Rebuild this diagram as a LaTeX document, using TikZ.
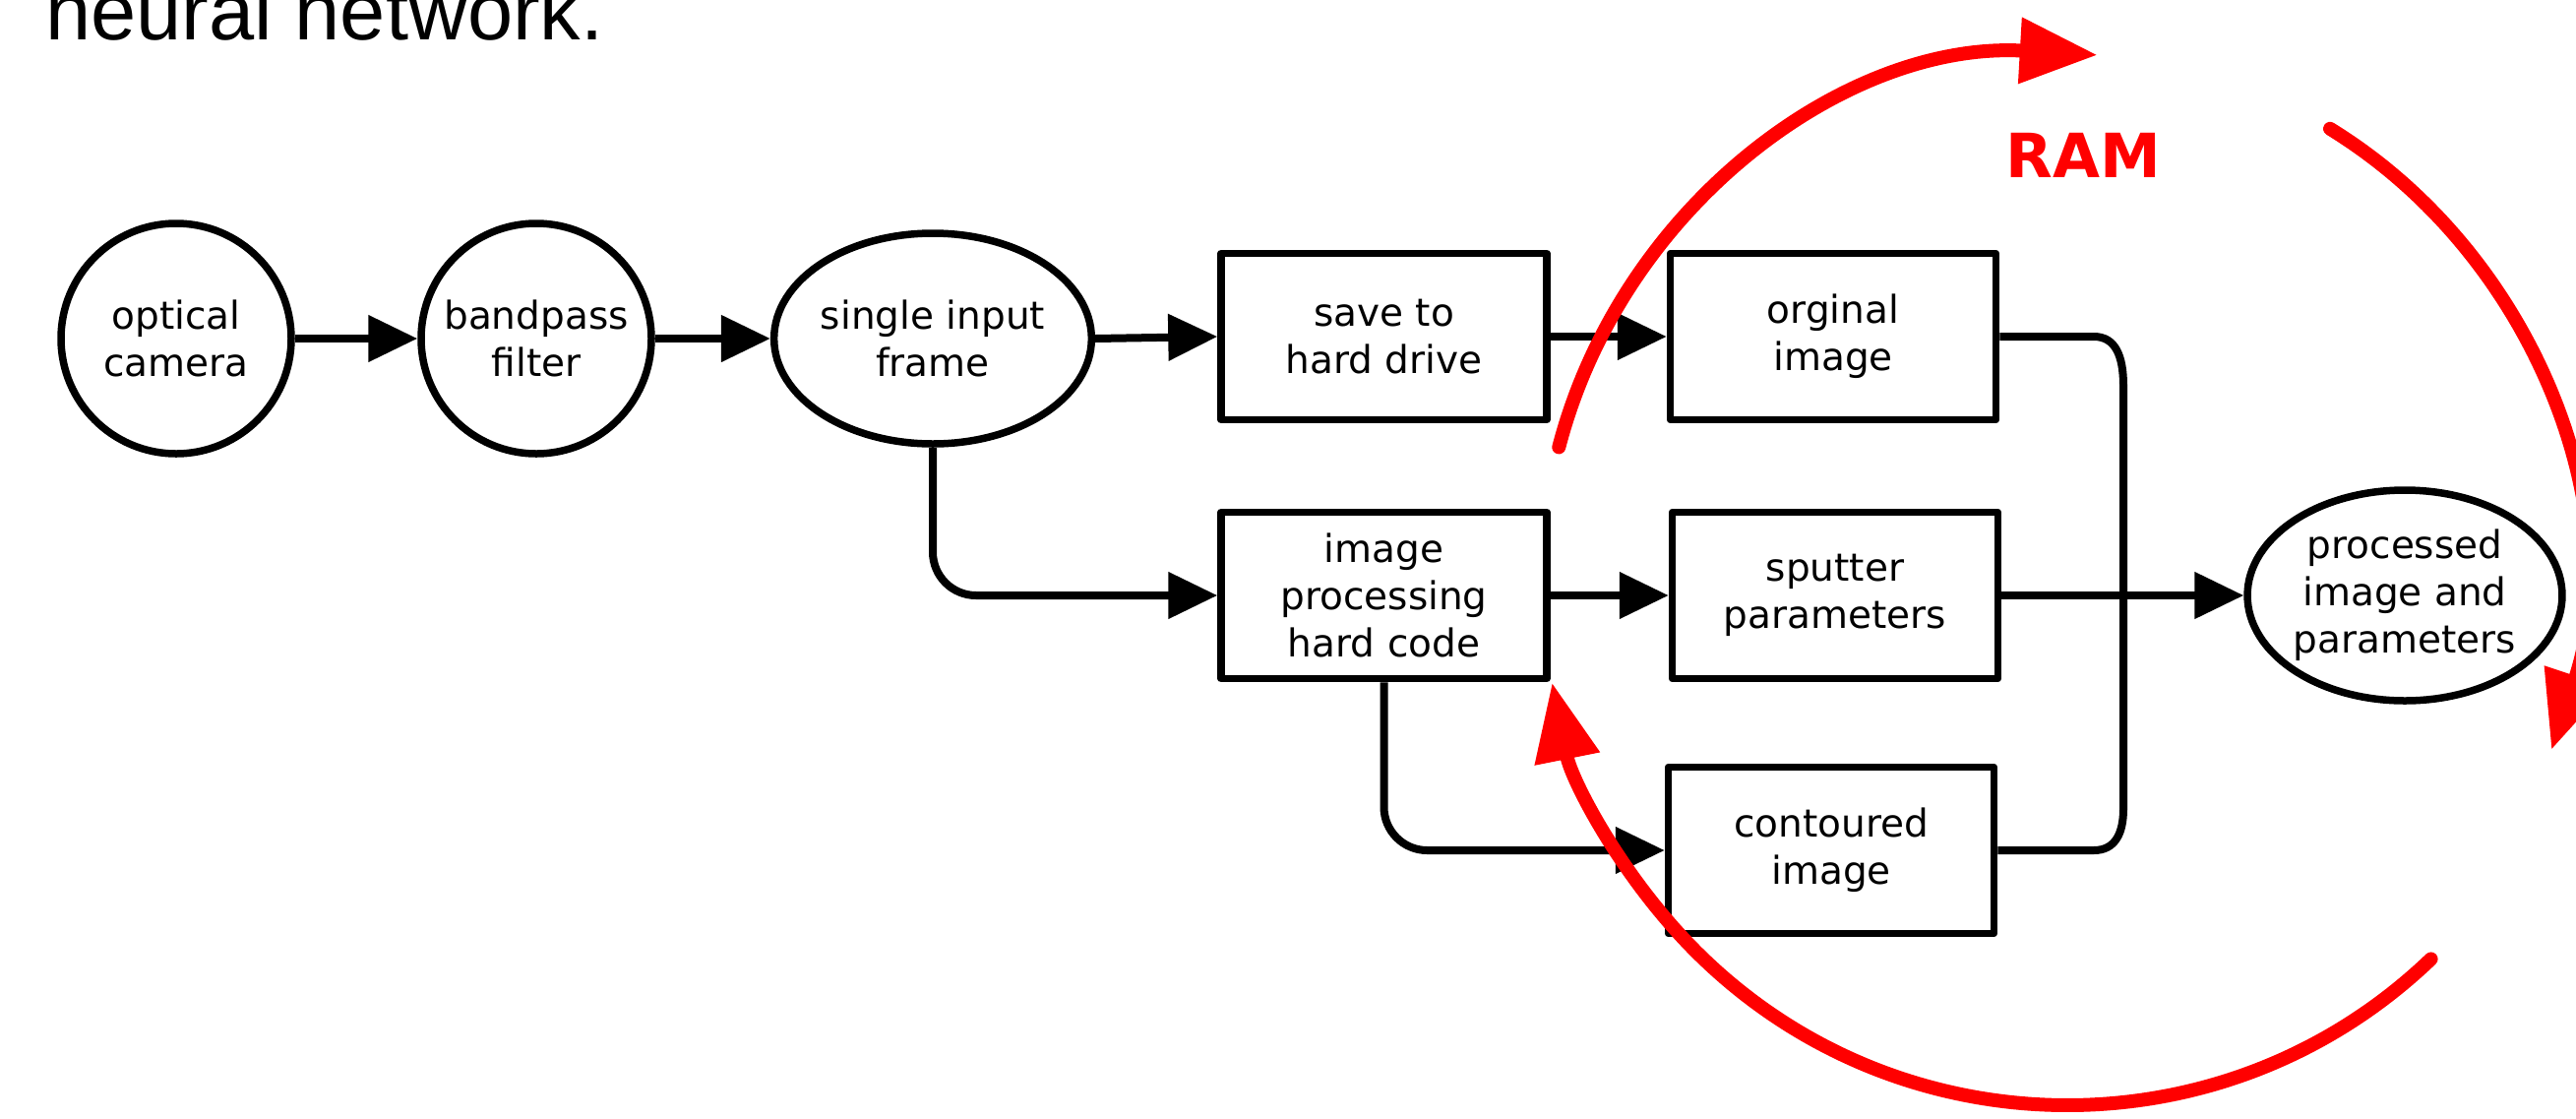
\documentclass[tikz,border=0pt]{standalone}
\usepackage{fontspec}
\usetikzlibrary{shapes.geometric,arrows.meta,calc}
\newfontfamily\nodef{DejaVu Sans}
\newfontfamily\titlef{Liberation Sans}
\begin{document}
\begin{tikzpicture}[x=1pt,y=1pt,
  blk/.style={draw, line width=7.5pt, line join=round, align=center,
    font={\nodef\fontsize{39}{48}\selectfont}, inner sep=0pt},
  circ/.style={blk, circle, minimum size=234pt},
  ell/.style={blk, ellipse, minimum width=317pt, minimum height=214pt},
  boxn/.style={blk, rectangle, minimum width=331pt, minimum height=169pt},
  conn/.style={line width=8pt},
  arr/.style={conn, -{Triangle[length=50pt,width=46pt]}},
  redarc/.style={draw=red, line width=14pt, line cap=round,
    -{Triangle[length=79pt,width=64pt,fill=red]}}
]
\useasboundingbox (0,0) rectangle (2618,-1136);
\clip (0,0) rectangle (2618,-1136);

% title (cut at top)
\node[anchor=base west, inner sep=0pt, font={\titlef\fontsize{83}{90}\selectfont}] (title) at (46,-40) {neural network.};

% nodes
\node[circ] (cam) at (179,-344) {optical\\camera};
\node[circ] (bp) at (545,-344) {bandpass\\filter};
\node[ell] (sif) at (948,-344) {single input\\frame};
\node[boxn] (save) at (1406.5,-342) {save to\\hard drive};
\node[boxn] (orig) at (1863,-342) {orginal\\image};
\node[boxn] (imp) at (1406.5,-605) {image\\processing\\hard code};
\node[boxn] (sput) at (1865,-605) {sputter\\parameters};
\node[boxn] (cont) at (1861,-864) {contoured\\image};
\node[ell] (proc) at (2444,-605) {processed\\image and\\parameters};

% connectors
\draw[arr] (cam.east) -- (bp.west);
\draw[arr] (bp.east) -- (sif.west);
\draw[arr] (sif.east) -- (save.west);
\draw[arr] (save.east) -- (orig.west);
\draw[arr, rounded corners=44pt] (sif.south) |- (imp.west);
\draw[arr] (imp.east) -- (sput.west);
\draw[arr, rounded corners=44pt] (imp.south) |- (cont.west);
\draw[arr] (sput.east) -- (proc.west);

% bracket joining original and contoured images
\coordinate (jt) at (2128,-342);
\coordinate (jb) at (2128,-864);
\draw[conn, line join=round] (orig.east) -- (jt)
  .. controls (2150,-342) and (2158,-362) .. (2158,-392)
  -- (2158,-822)
  .. controls (2158,-846) and (2150,-864) .. (jb)
  -- (cont.east);

% RAM label
\node[text=red, anchor=base, inner sep=0pt, font={\nodef\bfseries\fontsize{62}{70}\selectfont}] (ramlbl) at (2117,-180) {RAM};

% red cycle arcs
\coordinate (rc) at (2101,-589);
\draw[redarc] ([shift={(165.4:534pt)}]rc) arc[start angle=165.4, end angle=86.7, radius=534pt];
\draw[redarc] ([shift={(59.1:520pt and 534pt)}]rc) arc[start angle=59.1, end angle=-18.9, x radius=520pt, y radius=534pt];
\draw[redarc] ([shift={(-46.2:534pt)}]rc) arc[start angle=-46.2, end angle=-168.7, radius=534pt];
\end{tikzpicture}
\end{document}
